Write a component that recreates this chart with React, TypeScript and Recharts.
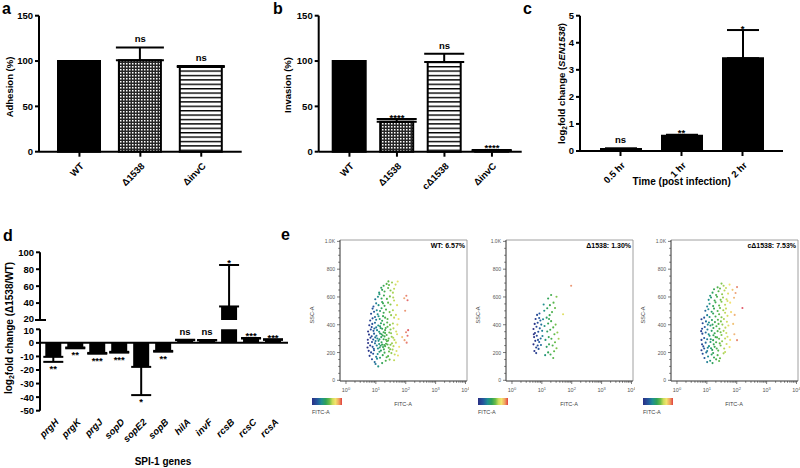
import React from "react"
import {
    ComposedChart,
    Bar,
    Cell,
    ErrorBar,
    Line,
    XAxis,
    YAxis,
    ReferenceLine,
    ReferenceArea,
    ScatterChart,
    Scatter
} from "recharts"

const FONT = '"Liberation Sans", Arial, Helvetica, sans-serif'

// ---- panel a: adhesion
const adhesionStrains = ["WT", "Δ1538", "ΔinvC"]
const adhesionMean = [100, 101, 93.5]
const adhesionSem = [0, 14, 1]
const adhesionSig = ["", "ns", "ns"]

// ---- panel b: invasion
const invasionStrains = ["WT", "Δ1538", "cΔ1538", "ΔinvC"]
const invasionMean = [100, 33, 99, 1]
const invasionSem = [0, 3, 9, 1]
const invasionSig = ["", "****", "ns", "****"]

// ---- panel c: SEN1538 expression over time
const timePoints = ["0.5 hr", "1 hr", "2 hr"]
const expressionMean = [0.07, 0.56, 3.43]
const expressionSem = [0.03, 0.04, 1.04]
const expressionSig = ["ns", "**", "*"]

// ---- panel d: SPI-1 genes
const genes = ["prgH", "prgK", "prgJ", "sopD", "sopE2", "sopB", "hilA", "invF", "rcsB", "rcsC", "rcsA"]
const geneMean = [-10.3, -3.4, -7.4, -6.6, -17.7, -5.9, 2.0, 1.8, 36, 3.2, 2.2]
const geneSem = [3.7, 0.6, 0.6, 0.6, 20.8, 0.6, 0.3, 0.3, 49, 0.4, 0.5]
const geneSig = ["**", "**", "***", "***", "*", "**", "ns", "ns", "*", "***", "***"]
const breakLow = 10
const breakHigh = 20

// ---- panel e: flow cytometry events (log10 FITC-A, SSC-A)
const wtEvents: [number, number][] = [
    [1.08, 100], [0.96, 131], [1.21, 124], [1.33, 141], [0.87, 152], [1.04, 156], [1.46, 149], [1.14, 162], [1.61, 144], [0.99, 117],
    [0.79, 176], [0.91, 191], [1.01, 169], [1.12, 206], [1.23, 181], [1.29, 199], [1.41, 174], [1.52, 196], [1.63, 186], [1.69, 211],
    [0.76, 212], [0.94, 216], [1.17, 214], [1.36, 166], [1.56, 221], [1.06, 189], [0.84, 201], [1.27, 223], [1.44, 207], [1.74, 179],
    [0.72, 236], [0.81, 251], [0.89, 241], [0.97, 266], [1.07, 229], [1.16, 249], [1.24, 239], [1.34, 263], [1.43, 234], [1.49, 256],
    [1.59, 246], [1.67, 271], [1.78, 241], [0.74, 269], [0.87, 276], [1.03, 251], [1.19, 274], [1.37, 281], [1.54, 267], [1.11, 261],
    [0.93, 227], [1.48, 224], [1.28, 254], [2.03, 271], [1.96, 289], [1.13, 236], [1.31, 246], [0.99, 283], [1.21, 257], [1.39, 258],
    [0.73, 292], [0.82, 306], [0.91, 294], [1.02, 321], [1.09, 284], [1.18, 311], [1.26, 296], [1.36, 326], [1.43, 301], [1.53, 314],
    [1.62, 291], [1.71, 331], [0.77, 329], [0.94, 336], [1.14, 337], [1.31, 341], [1.51, 339], [1.05, 301], [1.23, 323], [1.41, 286],
    [1.58, 306], [2.06, 321], [2.01, 346], [1.88, 311], [0.86, 317], [1.12, 296], [1.29, 316], [0.98, 309], [1.19, 331], [1.34, 292],
    [0.74, 351], [0.83, 366], [0.92, 356], [1.01, 381], [1.11, 349], [1.21, 371], [1.31, 361], [1.39, 386], [1.49, 366], [1.59, 374],
    [1.68, 351], [0.78, 396], [0.88, 406], [0.97, 414], [1.08, 394], [1.17, 411], [1.27, 401], [1.38, 416], [1.47, 399], [1.57, 409],
    [1.14, 389], [0.95, 373], [1.26, 346], [1.45, 344], [1.72, 401], [2.08, 361], [1.04, 361], [1.16, 376], [1.33, 376], [0.86, 383],
    [0.81, 431], [0.89, 446], [1.01, 436], [1.09, 461], [1.21, 429], [1.31, 451], [1.39, 441], [1.51, 469], [1.61, 451], [0.84, 479],
    [0.94, 494], [1.06, 476], [1.14, 499], [1.26, 486], [1.34, 509], [1.46, 491], [1.57, 504], [1.67, 471], [0.89, 516], [1.19, 519],
    [1.98, 501], [1.76, 441], [1.03, 504], [1.13, 441], [1.24, 462], [0.97, 456],
    [0.92, 531], [1.01, 554], [1.09, 541], [1.21, 564], [1.29, 536], [1.41, 559], [1.49, 546], [1.61, 574], [0.98, 584], [1.07, 601],
    [1.19, 589], [1.27, 611], [1.37, 586], [1.47, 604], [1.58, 596], [1.24, 554], [1.12, 619], [1.95, 591], [2.06, 576], [2.02, 609],
    [1.71, 541],
    [1.11, 631], [1.21, 651], [1.29, 639], [1.41, 664], [1.49, 646], [1.61, 659], [1.26, 681], [1.36, 694], [1.44, 686], [1.54, 704],
    [1.66, 689], [1.73, 711], [1.18, 666], [1.42, 712], [1.57, 631]
]

const mutantEvents: [number, number][] = [
    [0.75, 211], [0.81, 236], [0.72, 259], [0.86, 251], [0.78, 284], [0.91, 276], [0.74, 311], [0.83, 321], [0.96, 301], [0.77, 341],
    [0.88, 349], [0.72, 369], [0.82, 386], [0.93, 374], [0.76, 406], [0.86, 414], [0.98, 401], [0.79, 441], [0.91, 449], [0.84, 471],
    [0.95, 431], [1.01, 356], [0.97, 254], [0.89, 226], [1.02, 319], [0.81, 196], [0.92, 481], [1.04, 439], [0.73, 331], [0.87, 291],
    [1.11, 181], [1.21, 201], [1.29, 186], [1.41, 209], [1.49, 231], [1.16, 241], [1.24, 259], [1.36, 251], [1.44, 274], [1.12, 291],
    [1.23, 311], [1.32, 299], [1.42, 331], [1.52, 344], [1.18, 351], [1.28, 364], [1.38, 381], [1.09, 391], [1.21, 409], [1.31, 426],
    [1.46, 401], [1.16, 451], [1.26, 469], [1.34, 491], [1.18, 519], [1.27, 541], [1.39, 559], [1.21, 589], [1.31, 614], [1.49, 601],
    [1.44, 521], [1.08, 501], [1.56, 299], [1.38, 161], [1.71, 476], [1.98, 681], [1.24, 441], [1.06, 546]
]

const complementEvents: [number, number][] = [
    [1.01, 131], [1.11, 141], [1.19, 124], [1.31, 151], [0.92, 161], [1.04, 171], [1.16, 186], [1.24, 164], [1.36, 181], [1.44, 159],
    [0.86, 191], [1.56, 194], [0.98, 201], [1.41, 139], [1.21, 197],
    [0.82, 216], [0.91, 229], [1.01, 211], [1.07, 246], [1.18, 219], [1.26, 241], [1.38, 214], [1.46, 251], [1.58, 229], [1.66, 261],
    [0.84, 259], [0.96, 271], [1.12, 276], [1.23, 259], [1.31, 274], [1.43, 266], [1.51, 281], [1.03, 234], [1.61, 204], [0.88, 244],
    [1.76, 239], [1.14, 231], [1.33, 229],
    [0.82, 291], [0.91, 304], [1.01, 296], [1.09, 321], [1.21, 289], [1.29, 311], [1.41, 299], [1.49, 326], [1.61, 301], [1.69, 314],
    [0.85, 336], [0.96, 344], [1.06, 331], [1.16, 356], [1.26, 339], [1.36, 354], [1.46, 346], [1.56, 356], [1.78, 291], [2.01, 289],
    [1.92, 331], [0.81, 354], [1.22, 324], [1.65, 341], [1.13, 296], [1.34, 309],
    [0.84, 371], [0.93, 384], [1.02, 366], [1.12, 394], [1.22, 376], [1.32, 389], [1.42, 371], [1.52, 401], [1.62, 379], [1.72, 394],
    [0.86, 411], [0.97, 424], [1.07, 416], [1.17, 434], [1.27, 419], [1.37, 436], [1.47, 424], [1.57, 441], [1.67, 421], [1.88, 406],
    [0.82, 439], [1.03, 401], [1.19, 401], [1.39, 406],
    [0.91, 451], [1.01, 469], [1.09, 456], [1.21, 481], [1.29, 459], [1.41, 476], [1.49, 454], [1.61, 486], [1.69, 464], [0.95, 501],
    [1.05, 511], [1.16, 494], [1.24, 516], [1.36, 499], [1.44, 521], [1.55, 504], [1.64, 516], [1.81, 491], [2.19, 521], [1.93, 471],
    [1.01, 531], [1.09, 551], [1.21, 534], [1.29, 561], [1.41, 539], [1.49, 566], [1.61, 544], [1.69, 571], [1.06, 579], [1.14, 596],
    [1.26, 574], [1.34, 601], [1.46, 579], [1.54, 596], [1.66, 584], [1.78, 559], [1.91, 594],
    [1.11, 609], [1.19, 631], [1.31, 614], [1.39, 641], [1.51, 619], [1.59, 646], [1.71, 624], [1.24, 656], [1.36, 669], [1.44, 661],
    [1.56, 681], [1.64, 664], [1.76, 689], [1.86, 651], [2.01, 671], [1.96, 629], [1.49, 696]
]

const flowSamples = ["WT: 6.57%", "Δ1538: 1.30%", "cΔ1538: 7.53%"]
const flowXMajor = [0, 1, 2, 3, 4]
const flowYMajor = [0, 200, 400, 600, 800, 1000]
const flowYLabels = ["0", "200", "400", "600", "800", "1.0K"]

// ---- helpers
const makeRows = (names: string[], mean: number[], sem: number[], sig: string[]) =>
    names.map((name, i) => ({
        name,
        value: mean[i],
        err: sem[i] ? (mean[i] >= 0 ? [0, sem[i]] : [sem[i], 0]) : null,
        sigY: sig[i] ? mean[i] + (mean[i] >= 0 ? sem[i] : -sem[i]) : null,
        sig: sig[i]
    }))

const adhesionRows = makeRows(adhesionStrains, adhesionMean, adhesionSem, adhesionSig)
const invasionRows = makeRows(invasionStrains, invasionMean, invasionSem, invasionSig)
const expressionRows = makeRows(timePoints, expressionMean, expressionSem, expressionSig)
const geneRows = makeRows(genes, geneMean, geneSem, geneSig)
const upperRows = geneRows.map(r => (r.value > breakHigh ? r : { name: r.name, value: null, err: null, sigY: null, sig: "" }))
const lowerRows = geneRows.map(r => (r.value > breakLow ? { ...r, err: null, sigY: null, sig: "" } : r))

const flowXMinor: number[] = []
for (let d = 0; d < 4; d++) for (let k = 2; k < 10; k++) flowXMinor.push(d + Math.log10(k))
const flowXTicks = [...flowXMajor, ...flowXMinor].sort((a, b) => a - b)
const flowYTicks: number[] = []
for (let v = 0; v <= 1000; v += 50) flowYTicks.push(v)

const axisStroke = { stroke: "#000", strokeWidth: 2 }
const yTickStyle = { fontSize: 9.5, fontWeight: "bold", fill: "#000", fontFamily: FONT }

const colorStops: [number, string][] = [
    [0.72, "#2a2f85"],
    [0.92, "#24589e"],
    [1.05, "#1f8f92"],
    [1.2, "#2fa257"],
    [1.42, "#5cb848"],
    [1.6, "#bcd85a"],
    [1.77, "#f3e46e"],
    [1.93, "#f0b27a"],
    [2.1, "#e05a6a"]
]
const hex = (c: string) => [1, 3, 5].map(i => parseInt(c.slice(i, i + 2), 16))
const flowColor = (v: number) => {
    if (v <= colorStops[0][0]) return colorStops[0][1]
    for (let i = 1; i < colorStops.length; i++) {
        if (v <= colorStops[i][0]) {
            const [v0, c0] = colorStops[i - 1]
            const [v1, c1] = colorStops[i]
            const t = (v - v0) / (v1 - v0)
            const a = hex(c0), b = hex(c1)
            return `rgb(${a.map((x, j) => Math.round(x + (b[j] - x) * t)).join(",")})`
        }
    }
    return colorStops[colorStops.length - 1][1]
}

// significance label drawn at the end of the error bar
const sigDot = (p: any) => {
    const { cx, cy, payload, index } = p
    if (cx == null || cy == null || !payload || !payload.sig) return <g key={`s${index}`} />
    const down = payload.value < 0
    const star = payload.sig.includes("*")
    const y = down ? cy + 10 : star ? cy + 1.5 : cy - 5
    return (
        <text key={`s${index}`} x={cx} y={y} textAnchor="middle" fontSize={9.5} fontWeight="bold" fontFamily={FONT} fill="#000">
            {payload.sig}
        </text>
    )
}

const RotTick = (props: any) => {
    const { x, y, payload, italic, dx = 5, dy = 8 } = props
    const ax = x + dx
    const ay = y + dy
    return (
        <text
            x={ax}
            y={ay}
            transform={`rotate(-45 ${ax} ${ay})`}
            textAnchor="end"
            fontSize={9.5}
            fontWeight="bold"
            fontStyle={italic ? "italic" : "normal"}
            fontFamily={FONT}
            fill="#000"
        >
            {payload.value}
        </text>
    )
}

const GeneTick = (props: any) => <RotTick {...props} italic dx={6} dy={5} />

const UpperYTick = (props: any) => {
    const { x, y, payload } = props
    return (
        <g>
            <text x={x} y={y + (payload.value === breakHigh ? 2.2 : 3.4)} textAnchor="end" {...yTickStyle}>{payload.value}</text>
            {payload.value === breakHigh && <line x1={x + 1} x2={x + 12} y1={y} y2={y} stroke="#000" strokeWidth={2} />}
        </g>
    )
}

const LowerYTick = (props: any) => {
    const { x, y, payload } = props
    return (
        <text x={x} y={y + (payload.value === breakLow ? 4.4 : 3.4)} textAnchor="end" {...yTickStyle}>{payload.value}</text>
    )
}

const FlowXTick = (props: any) => {
    const { x, y, payload } = props
    const major = Math.abs(payload.value - Math.round(payload.value)) < 1e-6
    return (
        <g>
            <line x1={x} x2={x} y1={y} y2={y + (major ? 3 : 1.8)} stroke="#444" strokeWidth={0.7} />
            {major && (
                <text x={x} y={y + 11} textAnchor="middle" fontSize={5.5} fill="#555" fontFamily={FONT}>
                    10<tspan dy={-2.5} fontSize={4}>{Math.round(payload.value)}</tspan>
                </text>
            )}
        </g>
    )
}

const FlowYTick = (props: any) => {
    const { x, y, payload } = props
    const idx = flowYMajor.indexOf(payload.value)
    return (
        <g>
            <line x1={x} x2={x - (idx >= 0 ? 3 : 1.8)} y1={y} y2={y} stroke="#444" strokeWidth={0.7} />
            {idx >= 0 && (
                <text x={x - 5} y={y + 2} textAnchor="end" fontSize={5} fill="#555" fontFamily={FONT}>
                    {flowYLabels[idx]}
                </text>
            )}
        </g>
    )
}

const dotShape = (p: any) => <circle cx={p.cx} cy={p.cy} r={1.05} fill={flowColor(p.payload.x)} />

function FlowPlot({ left, events }: { left: number; events: [number, number][] }) {
    const data = events.map(([x, y]) => ({ x, y }))
    return (
        <div style={{ position: "absolute", left: left - 30, top: 235 }}>
            <ScatterChart width={159} height={166} margin={{ top: 5, right: 2, bottom: 0, left: 0 }}>
                <XAxis
                    type="number"
                    dataKey="x"
                    domain={[-0.2, 4.05]}
                    allowDataOverflow
                    ticks={flowXTicks}
                    interval={0}
                    height={20}
                    axisLine={{ stroke: "#444", strokeWidth: 0.8 }}
                    tickLine={false}
                    tickSize={0}
                    tickMargin={0}
                    tick={FlowXTick}
                />
                <YAxis
                    type="number"
                    dataKey="y"
                    domain={[-5, 1010]}
                    allowDataOverflow
                    ticks={flowYTicks}
                    interval={0}
                    width={30}
                    axisLine={{ stroke: "#444", strokeWidth: 0.8 }}
                    tickLine={false}
                    tickSize={0}
                    tickMargin={0}
                    tick={FlowYTick}
                />
                <ReferenceArea x1={-0.2} x2={4.05} y1={-5} y2={1010} fill="none" stroke="#888" strokeWidth={0.8} />
                <Scatter data={data} isAnimationActive={false} shape={dotShape} />
            </ScatterChart>
        </div>
    )
}

const flowLefts = [340, 506, 671]
const flowEvents = [wtEvents, mutantEvents, complementEvents]

export default function App() {
    const txt = { fontFamily: FONT, fontWeight: "bold" as const, fill: "#000" }
    return (
        <div style={{ position: "absolute", left: 0, top: 0, width: 800, height: 468, background: "#fff", overflow: "hidden", fontFamily: FONT }}>
            {/* a */}
            <div style={{ position: "absolute", left: 0, top: 0 }}>
                <ComposedChart width={260} height={215} data={adhesionRows} margin={{ top: 15.7, right: 18.3, bottom: 0, left: 0 }}>
                    <defs>
                        <pattern id="checkA" width={3} height={3} patternUnits="userSpaceOnUse">
                            <rect width={3} height={3} fill="#262626" />
                            <rect width={1.5} height={1.5} fill="#fff" />
                        </pattern>
                        <pattern id="stripeA" width={4} height={4.4} patternUnits="userSpaceOnUse">
                            <rect width={4} height={4.4} fill="#fff" />
                            <rect width={4} height={1.4} fill="#000" />
                        </pattern>
                    </defs>
                    <XAxis dataKey="name" interval={0} padding={{ left: 10, right: 10 }} height={63.3}
                        axisLine={axisStroke} tickLine={axisStroke} tickSize={5} tickMargin={2} tick={RotTick} />
                    <YAxis width={39} domain={[0, 150]} ticks={[0, 50, 100, 150]} interval={0}
                        axisLine={axisStroke} tickLine={axisStroke} tickSize={4} tick={yTickStyle} />
                    <Bar dataKey="value" barSize={42} stroke="#000" strokeWidth={2} isAnimationActive={false}>
                        <Cell fill="#000" />
                        <Cell fill="url(#checkA)" />
                        <Cell fill="url(#stripeA)" />
                        <ErrorBar dataKey="err" width={24} stroke="#000" strokeWidth={2} isAnimationActive={false} />
                    </Bar>
                    <Line dataKey="sigY" stroke="none" dot={sigDot} activeDot={false} isAnimationActive={false} />
                </ComposedChart>
            </div>

            {/* b */}
            <div style={{ position: "absolute", left: 280, top: 0 }}>
                <ComposedChart width={260} height={215} data={invasionRows} margin={{ top: 15.7, right: 18.3, bottom: 0, left: 0 }}>
                    <defs>
                        <pattern id="checkB" width={3} height={3} patternUnits="userSpaceOnUse">
                            <rect width={3} height={3} fill="#262626" />
                            <rect width={1.5} height={1.5} fill="#fff" />
                        </pattern>
                        <pattern id="stripeB" width={4} height={4.4} patternUnits="userSpaceOnUse">
                            <rect width={4} height={4.4} fill="#fff" />
                            <rect width={4} height={1.4} fill="#000" />
                        </pattern>
                    </defs>
                    <XAxis dataKey="name" interval={0} padding={{ left: 7, right: 6 }} height={63.3}
                        axisLine={axisStroke} tickLine={axisStroke} tickSize={5} tickMargin={2} tick={RotTick} />
                    <YAxis width={38.7} domain={[0, 150]} ticks={[0, 50, 100, 150]} interval={0}
                        axisLine={axisStroke} tickLine={axisStroke} tickSize={4} tick={yTickStyle} />
                    <Bar dataKey="value" barSize={33} stroke="#000" strokeWidth={2} isAnimationActive={false}>
                        <Cell fill="#000" />
                        <Cell fill="url(#checkB)" />
                        <Cell fill="url(#stripeB)" />
                        <Cell fill="#000" />
                        <ErrorBar dataKey="err" width={20} stroke="#000" strokeWidth={2} isAnimationActive={false} />
                    </Bar>
                    <Line dataKey="sigY" stroke="none" dot={sigDot} activeDot={false} isAnimationActive={false} />
                </ComposedChart>
            </div>

            {/* c */}
            <div style={{ position: "absolute", left: 540, top: 0 }}>
                <ComposedChart width={260} height={215} data={expressionRows} margin={{ top: 15.7, right: 17, bottom: 0, left: 0 }}>
                    <XAxis dataKey="name" interval={0} padding={{ left: 10, right: 10 }} height={64}
                        axisLine={axisStroke} tickLine={axisStroke} tickSize={5} tickMargin={2} tick={RotTick} />
                    <YAxis width={40} domain={[0, 5]} ticks={[0, 1, 2, 3, 4, 5]} interval={0}
                        axisLine={axisStroke} tickLine={axisStroke} tickSize={4} tick={yTickStyle} />
                    <Bar dataKey="value" barSize={40} fill="#000" stroke="#000" strokeWidth={2} isAnimationActive={false}>
                        <ErrorBar dataKey="err" width={16} stroke="#000" strokeWidth={2} isAnimationActive={false} />
                    </Bar>
                    <Line dataKey="sigY" stroke="none" dot={sigDot} activeDot={false} isAnimationActive={false} />
                </ComposedChart>
            </div>

            {/* d upper segment */}
            <div style={{ position: "absolute", left: 0, top: 245 }}>
                <ComposedChart width={300} height={80} data={upperRows} margin={{ top: 7.3, right: 12, bottom: 5, left: 0 }}>
                    <XAxis dataKey="name" hide padding={{ left: 2.3, right: 4 }} />
                    <YAxis width={40} domain={[breakHigh, 100]} allowDataOverflow ticks={[20, 40, 60, 80, 100]} interval={0}
                        axisLine={axisStroke} tickLine={axisStroke} tickSize={4} tickMargin={2} tick={UpperYTick} />
                    <Bar dataKey="value" barSize={16} fill="#000" isAnimationActive={false}>
                        <ErrorBar dataKey="err" width={10} stroke="#000" strokeWidth={2} isAnimationActive={false} />
                    </Bar>
                    <Line dataKey="sigY" stroke="none" dot={sigDot} activeDot={false} isAnimationActive={false} />
                </ComposedChart>
            </div>

            {/* d lower segment */}
            <div style={{ position: "absolute", left: 0, top: 325 }}>
                <ComposedChart width={300} height={143} data={lowerRows} margin={{ top: 4.3, right: 12, bottom: 0, left: 0 }}>
                    <XAxis dataKey="name" interval={0} padding={{ left: 2.3, right: 4 }} height={57.3}
                        axisLine={false} tickLine={{ stroke: "none" }} tickSize={5} tickMargin={2} tick={GeneTick} />
                    <YAxis width={40} domain={[-50, breakLow]} allowDataOverflow ticks={[-50, -40, -30, -20, -10, 0, 10]} interval={0}
                        axisLine={axisStroke} tickLine={axisStroke} tickSize={4} tickMargin={2} tick={LowerYTick} />
                    <Bar dataKey="value" barSize={16} fill="#000" isAnimationActive={false}>
                        <ErrorBar dataKey="err" width={10} stroke="#000" strokeWidth={2} isAnimationActive={false} />
                    </Bar>
                    <ReferenceLine y={0} stroke="#000" strokeWidth={2} />
                    <Line dataKey="sigY" stroke="none" dot={sigDot} activeDot={false} isAnimationActive={false} />
                </ComposedChart>
            </div>

            {/* e */}
            {flowLefts.map((l, i) => (
                <FlowPlot key={i} left={l} events={flowEvents[i]} />
            ))}
            {flowLefts.map((l, i) => (
                <div key={`cb${i}`} style={{
                    position: "absolute", left: l - 28, top: 398, width: 30, height: 7,
                    background: "linear-gradient(to right, #2a2f85, #24589e 18%, #1f8f92 32%, #2fa257 46%, #6cbc48 58%, #c9dc5a 68%, #f3e46e 78%, #f0a060 90%, #e04040)"
                }} />
            ))}

            {/* texts */}
            <svg width={800} height={468} style={{ position: "absolute", left: 0, top: 0, pointerEvents: "none" }}>
                <text x={2} y={14} fontSize={16} {...txt}>a</text>
                <text x={273} y={14} fontSize={16} {...txt}>b</text>
                <text x={523} y={14} fontSize={16} {...txt}>c</text>
                <text x={3} y={241} fontSize={16} {...txt}>d</text>
                <text x={281} y={240} fontSize={16} {...txt}>e</text>

                <text transform="translate(9.5 87) rotate(-90)" textAnchor="middle" dominantBaseline="central" fontSize={9.5} {...txt}>Adhesion (%)</text>
                <text transform="translate(287.5 85) rotate(-90)" textAnchor="middle" dominantBaseline="central" fontSize={9.5} {...txt}>Invasion (%)</text>
                <text transform="translate(561 83.5) rotate(-90)" textAnchor="middle" dominantBaseline="central" fontSize={9.5} {...txt}>
                    log<tspan fontSize={6.5} dy={2.5}>2</tspan><tspan dy={-2.5}>fold change (</tspan><tspan fontStyle="italic">SEN1538</tspan>)
                </text>
                <text x={681.7} y={185} textAnchor="middle" fontSize={10} {...txt}>Time (post infection)</text>

                <text transform="translate(8.5 328) rotate(-90)" textAnchor="middle" dominantBaseline="central" fontSize={10} {...txt}>
                    log<tspan fontSize={7} dy={2.5}>2</tspan><tspan dy={-2.5}>fold change (Δ1538/WT)</tspan>
                </text>
                <text x={163} y={465} textAnchor="middle" fontSize={10} {...txt}>SPI-1 genes</text>

                {flowLefts.map((l, i) => (
                    <g key={`ft${i}`} fontFamily={FONT}>
                        <text x={l + 125} y={247.5} textAnchor="end" fontSize={7} fontWeight="bold" fill="#000">{flowSamples[i]}</text>
                        <text transform={`translate(${l - 28} 315) rotate(-90)`} textAnchor="middle" dominantBaseline="central" fontSize={5.5} fill="#444">SSC-A</text>
                        <text x={l + 63} y={406} textAnchor="middle" fontSize={5.5} fill="#444">FITC-A</text>
                        <text x={l - 28} y={413.5} fontSize={5.5} fill="#444">FITC-A</text>
                    </g>
                ))}
            </svg>
        </div>
    )
}
